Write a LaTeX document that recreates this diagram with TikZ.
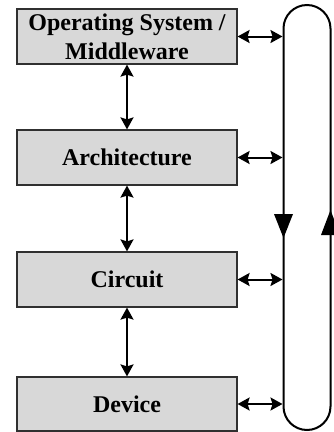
\documentclass[tikz,border=0pt]{standalone}
\usepackage{fontspec}
\setmainfont{Liberation Serif}
\usetikzlibrary{arrows.meta}
\definecolor{boxfill}{HTML}{D8D8D8}
\definecolor{boxline}{HTML}{303030}
\tikzset{
  layer/.style={draw=boxline, line width=1.2pt, fill=boxfill, minimum width=220pt, minimum height=55pt, inner sep=0pt, align=center, font=\fontsize{24}{29}\selectfont\bfseries},
  link/.style={line width=2pt, {Stealth[length=12pt,width=13pt,inset=2pt]}-{Stealth[length=12pt,width=13pt,inset=2pt]}},
  loopline/.style={line width=2pt, rounded corners=23.5pt},
  flowtip/.style={fill=black, draw=none}
}
\begin{document}
\begin{tikzpicture}[x=1pt, y=-1pt]
\useasboundingbox (0,0) rectangle (333,432);
\node[layer] (os) at (127,36.5) {Operating System /\\Middleware};
\node[layer] (arch) at (127,157.5) {Architecture};
\node[layer] (circ) at (127,279.5) {Circuit};
\node[layer, minimum height=54pt] (dev) at (127,404) {Device};
% loop
\draw[loopline] (283.5,5) rectangle (330.5,430);
\coordinate (loopL) at (282.5,0);
% vertical links
\draw[link] (os.south) -- (arch.north);
\draw[link] (arch.south) -- (circ.north);
\draw[link] (circ.south) -- (dev.north);
% horizontal links
\draw[link] (os.east) -- (os.east -| loopL);
\draw[link] (arch.east) -- (arch.east -| loopL);
\draw[link] (circ.east) -- (circ.east -| loopL);
\draw[link] (dev.east) -- (dev.east -| loopL);
% direction marks on loop
\fill[flowtip] (274,214) -- (293,214) -- (283.5,238) -- cycle;
\fill[flowtip] (321,235) -- (340,235) -- (330.5,210) -- cycle;
\end{tikzpicture}
\end{document}
